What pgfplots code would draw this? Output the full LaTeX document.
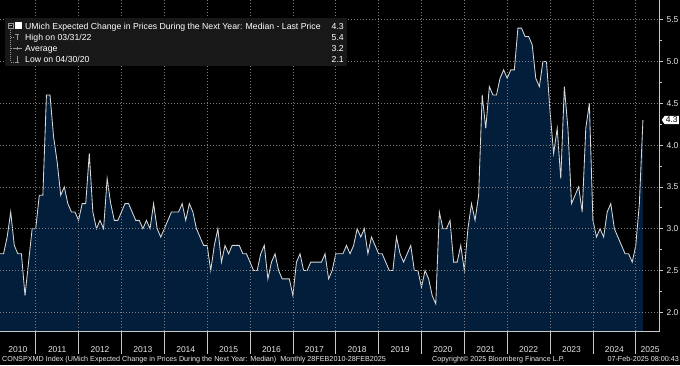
\documentclass[border=0pt]{standalone}
\usepackage{fontspec}
\setmainfont{Liberation Sans}
\usepackage{pgfplots}
\pgfplotsset{compat=1.18}
\usepackage{pgfplotstable}
\usetikzlibrary{shapes.symbols}
\definecolor{navy}{RGB}{2,30,58}
\definecolor{gridc}{RGB}{125,125,125}
\definecolor{axc}{RGB}{200,200,200}
\definecolor{txt}{RGB}{232,232,232}
\definecolor{legbg}{RGB}{24,24,24}
\definecolor{linec}{RGB}{215,215,215}
\definecolor{icon}{RGB}{150,150,150}

\pgfplotstableread[row sep=\\]{
m v \\
2 2.7 \\ 3 2.7 \\ 4 2.9 \\ 5 3.2 \\ 6 2.8 \\ 7 2.7 \\ 8 2.7 \\ 9 2.2 \\ 10 2.6 \\ 11 3.0 \\ 12 3.0 \\
13 3.4 \\ 14 3.4 \\ 15 4.6 \\ 16 4.6 \\ 17 4.1 \\ 18 3.8 \\ 19 3.4 \\ 20 3.5 \\ 21 3.3 \\ 22 3.2 \\ 23 3.2 \\ 24 3.1 \\
25 3.3 \\ 26 3.3 \\ 27 3.9 \\ 28 3.2 \\ 29 3.0 \\ 30 3.1 \\ 31 3.0 \\ 32 3.6 \\ 33 3.3 \\ 34 3.1 \\ 35 3.1 \\ 36 3.2 \\
37 3.3 \\ 38 3.3 \\ 39 3.2 \\ 40 3.1 \\ 41 3.1 \\ 42 3.0 \\ 43 3.1 \\ 44 3.0 \\ 45 3.3 \\ 46 3.0 \\ 47 2.9 \\ 48 3.0 \\
49 3.1 \\ 50 3.2 \\ 51 3.2 \\ 52 3.2 \\ 53 3.3 \\ 54 3.1 \\ 55 3.3 \\ 56 3.2 \\ 57 3.0 \\ 58 2.9 \\ 59 2.8 \\ 60 2.8 \\
61 2.5 \\ 62 2.8 \\ 63 3.0 \\ 64 2.6 \\ 65 2.8 \\ 66 2.7 \\ 67 2.8 \\ 68 2.8 \\ 69 2.8 \\ 70 2.7 \\ 71 2.7 \\ 72 2.6 \\
73 2.5 \\ 74 2.5 \\ 75 2.7 \\ 76 2.8 \\ 77 2.4 \\ 78 2.6 \\ 79 2.7 \\ 80 2.5 \\ 81 2.4 \\ 82 2.4 \\ 83 2.4 \\ 84 2.2 \\
85 2.6 \\ 86 2.7 \\ 87 2.5 \\ 88 2.5 \\ 89 2.6 \\ 90 2.6 \\ 91 2.6 \\ 92 2.6 \\ 93 2.7 \\ 94 2.4 \\ 95 2.5 \\ 96 2.7 \\
97 2.7 \\ 98 2.7 \\ 99 2.8 \\ 100 2.7 \\ 101 2.8 \\ 102 3.0 \\ 103 2.9 \\ 104 3.0 \\ 105 2.7 \\ 106 2.9 \\ 107 2.8 \\ 108 2.7 \\
109 2.7 \\ 110 2.6 \\ 111 2.5 \\ 112 2.5 \\ 113 2.9 \\ 114 2.7 \\ 115 2.6 \\ 116 2.7 \\ 117 2.8 \\ 118 2.5 \\ 119 2.5 \\ 120 2.3 \\
121 2.5 \\ 122 2.4 \\ 123 2.2 \\ 124 2.1 \\ 125 3.2 \\ 126 3.0 \\ 127 3.0 \\ 128 3.1 \\ 129 2.6 \\ 130 2.6 \\ 131 2.8 \\ 132 2.5 \\
133 3.0 \\ 134 3.3 \\ 135 3.1 \\ 136 3.4 \\ 137 4.6 \\ 138 4.2 \\ 139 4.7 \\ 140 4.6 \\ 141 4.6 \\ 142 4.8 \\ 143 4.9 \\ 144 4.8 \\
145 4.9 \\ 146 4.9 \\ 147 5.4 \\ 148 5.4 \\ 149 5.3 \\ 150 5.3 \\ 151 5.2 \\ 152 4.8 \\ 153 4.7 \\ 154 5.0 \\ 155 5.0 \\ 156 4.4 \\
157 3.9 \\ 158 4.2 \\ 159 3.6 \\ 160 4.7 \\ 161 4.2 \\ 162 3.3 \\ 163 3.4 \\ 164 3.5 \\ 165 3.2 \\ 166 4.2 \\ 167 4.5 \\ 168 3.1 \\
169 2.9 \\ 170 3.0 \\ 171 2.9 \\ 172 3.2 \\ 173 3.3 \\ 174 3.0 \\ 175 2.9 \\ 176 2.8 \\ 177 2.7 \\ 178 2.7 \\ 179 2.6 \\ 180 2.8 \\
181 3.3 \\ 182 4.3 \\
}\infl

\begin{document}
\begin{tikzpicture}
\useasboundingbox (0,0) rectangle (680pt,365pt);
\fill[black] (0,0) rectangle (680pt,365pt);
\begin{axis}[
  at={(0pt,34pt)}, anchor=south west,
  scale only axis, width=659pt, height=331pt,
  xmin=2, xmax=186.5, ymin=1.776, ymax=5.736,
  axis line style={draw=none},
  axis on top,
  clip mode=individual,
  xtick={12,24,...,180}, xticklabels={},
  ytick={2,2.5,...,5.5},
  minor y tick num=1,
  xtick pos=bottom, ytick pos=right, yticklabel pos=right,
  tick align=outside,
  major tick length=4pt, minor tick length=2.5pt,
  tick style={axc, line width=0.6pt},
  grid=major,
  major grid style={gridc, dash pattern=on 1pt off 2pt, line width=0.6pt},
  tick label style={font=\fontsize{8.5}{10}\selectfont, text=txt},
  yticklabel style={anchor=west, /pgf/number format/.cd, fixed, fixed zerofill, precision=1, assume math mode=true},
]
\addplot[fill=navy, draw=none] table[x=m,y=v]{\infl} \closedcycle;
\addplot[draw=linec, line width=0.85pt] table[x=m,y=v]{\infl};
\draw[axc, line width=0.7pt] (rel axis cs:0,0) -- (rel axis cs:1,0) -- (rel axis cs:1,1);
\pgfplotsinvokeforeach{12,24,...,180}{\draw[axc, line width=0.6pt] (axis cs:#1,1.776) -- ++(0pt,-23pt);}
\node[anchor=base, text=txt, font=\fontsize{8.5}{10}\selectfont, yshift=-21.5pt] at (axis cs:7,1.776) {2010};
\pgfplotsinvokeforeach{2011,...,2024}{\node[anchor=base, text=txt, font=\fontsize{8.5}{10}\selectfont, yshift=-21.5pt] at (axis cs:{12*(#1-2010)+6},1.776) {#1};}
\node[anchor=base, text=txt, font=\fontsize{8.5}{10}\selectfont, yshift=-21.5pt] at (axis cs:184,1.776) {2025};
\node[signal, signal to=west, signal pointer angle=110, anchor=west, fill=white, text=black, font=\fontsize{8.5}{10}\selectfont, inner xsep=1.2pt, inner ysep=1.2pt, xshift=2.5pt] at (axis cs:186.5,4.3) {4.3};
\end{axis}
% legend box
\fill[legbg] (5pt,347pt) rectangle (347pt,299pt);
\draw[icon, line width=0.5pt] (8pt,342pt) rectangle (13pt,337pt);
\draw[icon, line width=0.5pt] (9pt,339.5pt) -- (12pt,339.5pt);
\fill[white] (15pt,342.5pt) rectangle (22pt,335.5pt);
\draw[icon, line width=0.5pt, dash pattern=on 1pt off 1pt] (10.5pt,337pt) -- (10.5pt,303pt);
\draw[icon, line width=0.5pt, dash pattern=on 1pt off 1pt] (10.5pt,327.5pt) -- (14pt,327.5pt);
\draw[icon, line width=0.5pt, dash pattern=on 1pt off 1pt] (10.5pt,316.5pt) -- (13pt,316.5pt);
\draw[icon, line width=0.5pt, dash pattern=on 1pt off 1pt] (10.5pt,303pt) -- (14pt,303pt);
\draw[icon, line width=0.6pt] (15pt,331pt) -- (19pt,331pt) (17pt,331pt) -- (17pt,325pt);
\draw[icon, line width=0.6pt] (13pt,316.5pt) -- (22pt,316.5pt) (17.5pt,318pt) -- (17.5pt,315pt);
\draw[icon, line width=0.6pt] (15pt,302.5pt) -- (19pt,302.5pt) (17pt,302.5pt) -- (17pt,308.5pt);
\begin{scope}[every node/.style={font=\fontsize{8.7}{10}\selectfont, text=white, inner sep=0pt}]
\node[anchor=base west] at (25pt,335.5pt) {UMich Expected Change in Prices During the Next Year: Median - Last Price};
\node[anchor=base west] at (25pt,324.5pt) {High on 03/31/22};
\node[anchor=base west] at (25pt,313.5pt) {Average};
\node[anchor=base west] at (25pt,302.7pt) {Low on 04/30/20};
\node[anchor=base east] at (344pt,335.5pt) {4.3};
\node[anchor=base east] at (344pt,324.5pt) {5.4};
\node[anchor=base east] at (344pt,313.5pt) {3.2};
\node[anchor=base east] at (344pt,302.7pt) {2.1};
\end{scope}
% footer
\begin{scope}[every node/.style={font=\fontsize{7.2}{8}\selectfont, text=txt, inner sep=0pt}]
\node[anchor=base west] at (2pt,3.5pt) {CONSPXMD Index (UMich Expected Change in Prices During the Next Year: Median)\ \ Monthly 28FEB2010-28FEB2025};
\node[anchor=base west] at (432pt,3.5pt) {Copyright© 2025 Bloomberg Finance L.P.};
\node[anchor=base east] at (679pt,3.5pt) {07-Feb-2025 08:00:43};
\end{scope}
\end{tikzpicture}
\end{document}
